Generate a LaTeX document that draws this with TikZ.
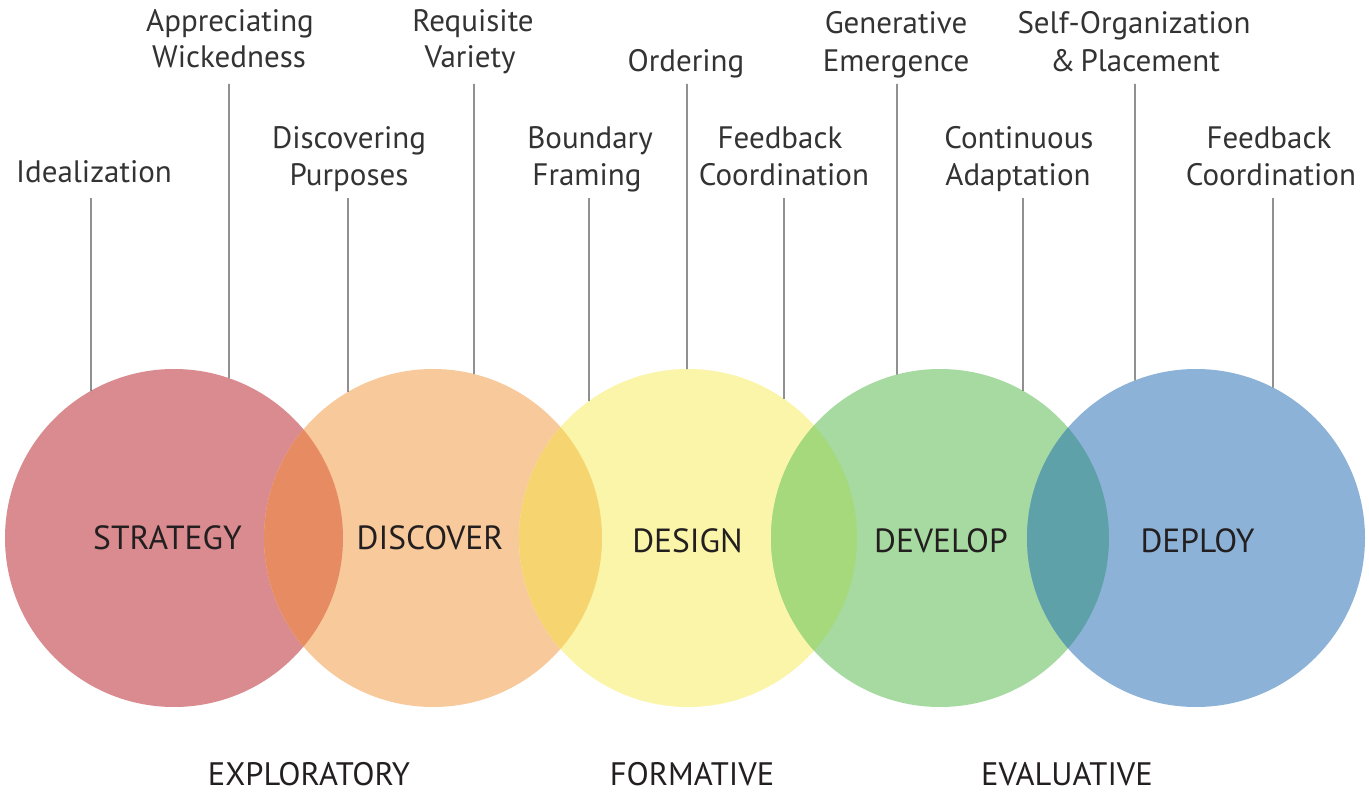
\documentclass[tikz,border=0pt]{standalone}
\usepackage{fontspec}
\usetikzlibrary{calc}
\setmainfont{PT Sans}
\definecolor{cStrat}{HTML}{D98B8F}
\definecolor{cDisc}{HTML}{F8C99B}
\definecolor{cDes}{HTML}{FAF5A9}
\definecolor{cDev}{HTML}{A6DAA0}
\definecolor{cDep}{HTML}{8CB2D8}
\definecolor{oA}{HTML}{E78C62}
\definecolor{oB}{HTML}{F6D470}
\definecolor{oC}{HTML}{A6D97C}
\definecolor{oD}{HTML}{5EA1A9}
\definecolor{txt}{HTML}{333333}
\definecolor{dtxt}{HTML}{231F20}
\definecolor{lnc}{HTML}{555555}
\tikzset{
  phase/.style={circle, minimum size=338pt, inner sep=0pt, outer sep=0pt, draw=none},
  lbl/.style={anchor=base, inner sep=0pt, text=txt, font=\fontsize{31}{37}\selectfont},
  plbl/.style={anchor=base, inner sep=0pt, text=dtxt, font=\fontsize{33.5}{40}\selectfont},
  blbl/.style={anchor=base, inner sep=0pt, text=dtxt, font=\fontsize{32.5}{38}\selectfont},
  tick/.style={draw=lnc, line width=1.2pt}
}
\begin{document}
\begin{tikzpicture}[x=1pt,y=-1pt]
\useasboundingbox (0,0) rectangle (1369,792);
% circles
\node[phase, fill=cStrat] (c1) at (174,538) {};
\node[phase, fill=cDisc] (c2) at (433,538) {};
\node[phase, fill=cDes] (c3) at (688,538) {};
\node[phase, fill=cDev] (c4) at (940,538) {};
\node[phase, fill=cDep] (c5) at (1196,538) {};
% overlaps
\begin{scope}
\clip (174,538) circle [radius=169pt];
\fill[oA] (433,538) circle [radius=169pt];
\end{scope}
\begin{scope}
\clip (433,538) circle [radius=169pt];
\fill[oB] (688,538) circle [radius=169pt];
\end{scope}
\begin{scope}
\clip (688,538) circle [radius=169pt];
\fill[oC] (940,538) circle [radius=169pt];
\end{scope}
\begin{scope}
\clip (940,538) circle [radius=169pt];
\fill[oD] (1196,538) circle [radius=169pt];
\end{scope}
% phase labels
\node[plbl] (p1) at (167.5,549) {STRATEGY};
\node[plbl] (p2) at (430,549) {DISCOVER};
\node[plbl] (p3) at (687.5,552) {DESIGN};
\node[plbl] (p4) at (941,552) {DEVELOP};
\node[plbl] (p5) at (1197.5,552) {DEPLOY};
% top labels
\node[lbl] (l1) at (94,182) {Idealization};
\node[lbl] (l2a) at (230,32) {Appreciating};
\node[lbl] (l2) at (229,68) {Wickedness};
\node[lbl] (l3a) at (349,148) {Discovering};
\node[lbl] (l3) at (349,185) {Purposes};
\node[lbl] (l4a) at (473,32) {Requisite};
\node[lbl] (l4) at (470,68) {Variety};
\node[lbl] (l5a) at (590,148) {Boundary};
\node[lbl] (l5) at (587,185) {Framing};
\node[lbl] (l6) at (686,71) {Ordering};
\node[lbl] (l7a) at (780,148) {Feedback};
\node[lbl] (l7) at (784,185) {Coordination};
\node[lbl] (l8a) at (896,34) {Generative};
\node[lbl] (l8) at (896,71) {Emergence};
\node[lbl] (l9a) at (1019,148) {Continuous};
\node[lbl] (l9) at (1018,185) {Adaptation};
\node[lbl] (l10a) at (1134,34) {Self-Organization};
\node[lbl] (l10) at (1135,71) {\&\,Placement};
\node[lbl] (l11a) at (1269,148) {Feedback};
\node[lbl] (l11) at (1271,185) {Coordination};
% tick tops
\coordinate (t1) at (91,198);
\coordinate (t2) at (229,84);
\coordinate (t3) at (348,198);
\coordinate (t4) at (474,84);
\coordinate (t5) at (589,198);
\coordinate (t6) at (687,84);
\coordinate (t7) at (784,198);
\coordinate (t8) at (897,84);
\coordinate (t9) at (1023,198);
\coordinate (t10) at (1135,84);
\coordinate (t11) at (1273,198);
\draw[tick] (t1) -- ($(c1.center)+(119.41:169pt)$);
\draw[tick] (t2) -- ($(c1.center)+(71.01:169pt)$);
\draw[tick] (t3) -- ($(c2.center)+(120.20:169pt)$);
\draw[tick] (t4) -- ($(c2.center)+(75.96:169pt)$);
\draw[tick] (t5) -- ($(c3.center)+(125.86:169pt)$);
\draw[tick] (t6) -- ($(c3.center)+(90.34:169pt)$);
\draw[tick] (t7) -- ($(c3.center)+(55.39:169pt)$);
\draw[tick] (t8) -- ($(c4.center)+(104.74:169pt)$);
\draw[tick] (t9) -- ($(c4.center)+(60.59:169pt)$);
\draw[tick] (t10) -- ($(c5.center)+(111.16:169pt)$);
\draw[tick] (t11) -- ($(c5.center)+(62.89:169pt)$);
% bottom labels
\node[blbl] (b1) at (309,785) {EXPLORATORY};
\node[blbl] (b2) at (692,785) {FORMATIVE};
\node[blbl] (b3) at (1067,785) {EVALUATIVE};
\end{tikzpicture}
\end{document}
